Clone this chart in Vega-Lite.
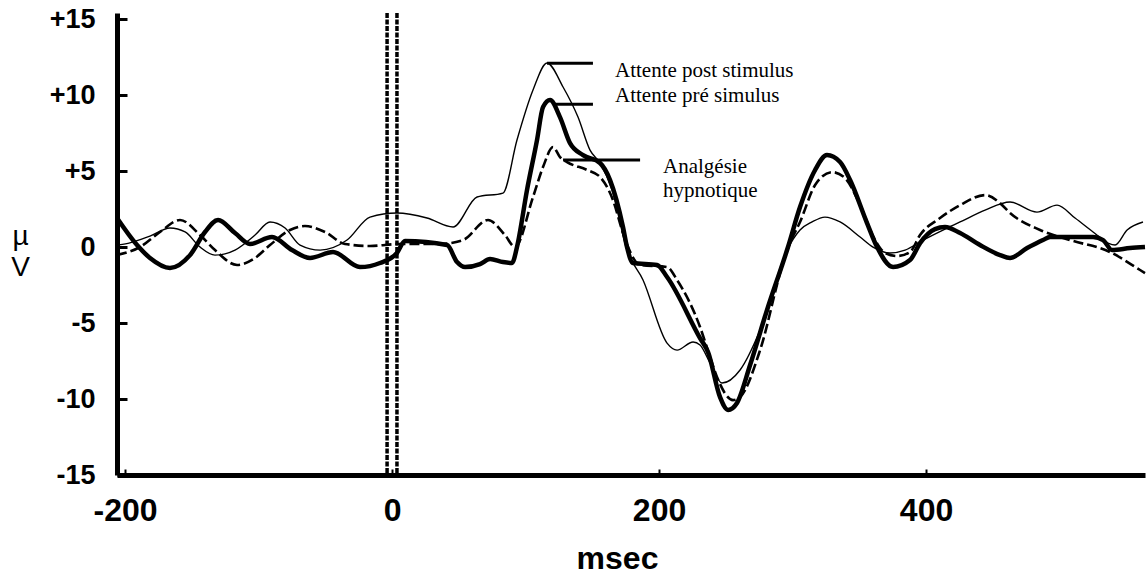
{
  "$schema": "https://vega.github.io/schema/vega-lite/v6.json",
  "width": 1028,
  "height": 462,
  "autosize": {"type": "none"},
  "padding": {"left": 117, "top": 13, "right": 1, "bottom": 99},
  "background": "white",
  "config": {
    "view": {"stroke": null},
    "axis": {"grid": false, "domainColor": "black", "tickColor": "black", "labelColor": "black", "titleColor": "black"}
  },
  "datasets": {
    "curves": [
      {"c": "pre", "t": -206.0, "v": 1.91}, {"c": "pre", "t": -191.0, "v": 0.13}, {"c": "pre", "t": -181.3, "v": -0.72},
      {"c": "pre", "t": -166.3, "v": -1.38}, {"c": "pre", "t": -151.3, "v": -0.53}, {"c": "pre", "t": -140.1, "v": 0.99},
      {"c": "pre", "t": -130.3, "v": 1.78}, {"c": "pre", "t": -117.6, "v": 0.92}, {"c": "pre", "t": -106.4, "v": 0.2},
      {"c": "pre", "t": -89.9, "v": 0.66}, {"c": "pre", "t": -74.9, "v": -0.2}, {"c": "pre", "t": -61.4, "v": -0.72},
      {"c": "pre", "t": -44.2, "v": -0.33}, {"c": "pre", "t": -24.0, "v": -1.32}, {"c": "pre", "t": -9.0, "v": -1.05},
      {"c": "pre", "t": 3.7, "v": -0.39}, {"c": "pre", "t": 9.7, "v": 0.39}, {"c": "pre", "t": 41.2, "v": 0.13},
      {"c": "pre", "t": 48.7, "v": -0.99}, {"c": "pre", "t": 54.7, "v": -1.32}, {"c": "pre", "t": 65.9, "v": -1.12},
      {"c": "pre", "t": 73.4, "v": -0.79}, {"c": "pre", "t": 83.1, "v": -0.99}, {"c": "pre", "t": 89.9, "v": -1.05},
      {"c": "pre", "t": 93.6, "v": 0.0}, {"c": "pre", "t": 101.1, "v": 3.75}, {"c": "pre", "t": 108.6, "v": 7.04},
      {"c": "pre", "t": 113.1, "v": 9.21}, {"c": "pre", "t": 118.4, "v": 9.67}, {"c": "pre", "t": 125.8, "v": 8.55},
      {"c": "pre", "t": 133.3, "v": 6.84}, {"c": "pre", "t": 143.1, "v": 6.05}, {"c": "pre", "t": 155.8, "v": 5.53},
      {"c": "pre", "t": 163.3, "v": 4.41}, {"c": "pre", "t": 173.0, "v": 1.32}, {"c": "pre", "t": 176.0, "v": 0.0},
      {"c": "pre", "t": 180.5, "v": -1.05}, {"c": "pre", "t": 198.5, "v": -1.18}, {"c": "pre", "t": 206.0, "v": -1.97},
      {"c": "pre", "t": 230.7, "v": -5.99}, {"c": "pre", "t": 236.7, "v": -6.91}, {"c": "pre", "t": 245.7, "v": -9.87},
      {"c": "pre", "t": 251.7, "v": -10.72}, {"c": "pre", "t": 258.4, "v": -10.26}, {"c": "pre", "t": 268.2, "v": -7.76},
      {"c": "pre", "t": 280.9, "v": -4.14}, {"c": "pre", "t": 296.6, "v": 0.0}, {"c": "pre", "t": 305.6, "v": 2.63},
      {"c": "pre", "t": 316.9, "v": 5.07}, {"c": "pre", "t": 325.8, "v": 6.05}, {"c": "pre", "t": 335.6, "v": 5.59},
      {"c": "pre", "t": 343.1, "v": 4.41}, {"c": "pre", "t": 355.8, "v": 1.58}, {"c": "pre", "t": 363.3, "v": 0.0},
      {"c": "pre", "t": 375.3, "v": -1.32}, {"c": "pre", "t": 388.0, "v": -0.86}, {"c": "pre", "t": 395.5, "v": 0.26},
      {"c": "pre", "t": 406.7, "v": 1.18}, {"c": "pre", "t": 414.2, "v": 1.32}, {"c": "pre", "t": 425.5, "v": 0.92},
      {"c": "pre", "t": 440.4, "v": 0.13}, {"c": "pre", "t": 455.4, "v": -0.53}, {"c": "pre", "t": 462.9, "v": -0.72},
      {"c": "pre", "t": 475.7, "v": -0.07}, {"c": "pre", "t": 487.6, "v": 0.46}, {"c": "pre", "t": 492.9, "v": 0.66},
      {"c": "pre", "t": 525.1, "v": 0.66}, {"c": "pre", "t": 532.6, "v": 0.46}, {"c": "pre", "t": 539.3, "v": -0.2},
      {"c": "pre", "t": 552.8, "v": -0.07}, {"c": "pre", "t": 564.0, "v": 0.0},

      {"c": "post", "t": -206.0, "v": 0.13}, {"c": "post", "t": -197.0, "v": 0.26}, {"c": "post", "t": -181.3, "v": 0.72},
      {"c": "post", "t": -166.3, "v": 1.25}, {"c": "post", "t": -155.0, "v": 0.99}, {"c": "post", "t": -143.8, "v": 0.0},
      {"c": "post", "t": -132.6, "v": -0.53}, {"c": "post", "t": -117.6, "v": -0.2}, {"c": "post", "t": -102.6, "v": 0.79},
      {"c": "post", "t": -91.4, "v": 1.65}, {"c": "post", "t": -80.1, "v": 1.25}, {"c": "post", "t": -68.9, "v": 0.13},
      {"c": "post", "t": -53.9, "v": -0.2}, {"c": "post", "t": -33.7, "v": 0.46}, {"c": "post", "t": -16.5, "v": 1.97},
      {"c": "post", "t": 3.7, "v": 2.24}, {"c": "post", "t": 26.2, "v": 1.91}, {"c": "post", "t": 45.7, "v": 1.32},
      {"c": "post", "t": 63.7, "v": 3.29}, {"c": "post", "t": 83.1, "v": 3.55}, {"c": "post", "t": 93.6, "v": 7.04},
      {"c": "post", "t": 105.6, "v": 10.33}, {"c": "post", "t": 116.1, "v": 12.11}, {"c": "post", "t": 128.1, "v": 10.53},
      {"c": "post", "t": 139.3, "v": 8.55}, {"c": "post", "t": 148.3, "v": 6.38}, {"c": "post", "t": 155.8, "v": 5.53},
      {"c": "post", "t": 164.8, "v": 3.75}, {"c": "post", "t": 176.0, "v": -0.2}, {"c": "post", "t": 188.0, "v": -2.17},
      {"c": "post", "t": 206.0, "v": -6.32}, {"c": "post", "t": 213.5, "v": -6.78}, {"c": "post", "t": 225.5, "v": -6.25},
      {"c": "post", "t": 230.7, "v": -6.45}, {"c": "post", "t": 238.2, "v": -7.63}, {"c": "post", "t": 247.2, "v": -8.95},
      {"c": "post", "t": 260.7, "v": -8.09}, {"c": "post", "t": 275.7, "v": -5.46}, {"c": "post", "t": 295.9, "v": -0.2},
      {"c": "post", "t": 305.6, "v": 1.12}, {"c": "post", "t": 314.6, "v": 1.65}, {"c": "post", "t": 324.3, "v": 1.97},
      {"c": "post", "t": 335.6, "v": 1.65}, {"c": "post", "t": 350.6, "v": 0.66}, {"c": "post", "t": 360.3, "v": 0.0},
      {"c": "post", "t": 373.0, "v": -0.39}, {"c": "post", "t": 384.3, "v": -0.2}, {"c": "post", "t": 397.8, "v": 0.46},
      {"c": "post", "t": 412.7, "v": 1.12}, {"c": "post", "t": 425.5, "v": 1.65}, {"c": "post", "t": 444.2, "v": 2.43},
      {"c": "post", "t": 462.9, "v": 2.96}, {"c": "post", "t": 483.1, "v": 2.3}, {"c": "post", "t": 498.1, "v": 2.76},
      {"c": "post", "t": 511.6, "v": 1.91}, {"c": "post", "t": 525.1, "v": 0.99}, {"c": "post", "t": 536.3, "v": 0.26},
      {"c": "post", "t": 541.6, "v": 0.13}, {"c": "post", "t": 550.6, "v": 1.12}, {"c": "post", "t": 562.5, "v": 1.65},

      {"c": "hyp", "t": -206.0, "v": -0.53}, {"c": "hyp", "t": -188.8, "v": 0.0}, {"c": "hyp", "t": -173.8, "v": 0.99},
      {"c": "hyp", "t": -158.8, "v": 1.78}, {"c": "hyp", "t": -143.8, "v": 0.79}, {"c": "hyp", "t": -132.6, "v": -0.2},
      {"c": "hyp", "t": -116.1, "v": -1.18}, {"c": "hyp", "t": -102.6, "v": -0.72}, {"c": "hyp", "t": -91.4, "v": 0.13},
      {"c": "hyp", "t": -76.4, "v": 1.12}, {"c": "hyp", "t": -65.2, "v": 1.38}, {"c": "hyp", "t": -50.2, "v": 0.99},
      {"c": "hyp", "t": -35.2, "v": 0.2}, {"c": "hyp", "t": -16.5, "v": 0.07}, {"c": "hyp", "t": 6.0, "v": 0.2},
      {"c": "hyp", "t": 36.0, "v": 0.2}, {"c": "hyp", "t": 53.2, "v": 0.46}, {"c": "hyp", "t": 71.9, "v": 1.78},
      {"c": "hyp", "t": 84.6, "v": 0.79}, {"c": "hyp", "t": 92.1, "v": 0.0}, {"c": "hyp", "t": 105.6, "v": 3.29},
      {"c": "hyp", "t": 113.1, "v": 5.26}, {"c": "hyp", "t": 120.6, "v": 6.58}, {"c": "hyp", "t": 125.8, "v": 5.92},
      {"c": "hyp", "t": 131.1, "v": 5.59}, {"c": "hyp", "t": 146.1, "v": 5.07}, {"c": "hyp", "t": 155.8, "v": 4.61},
      {"c": "hyp", "t": 165.5, "v": 3.09}, {"c": "hyp", "t": 173.0, "v": 0.92}, {"c": "hyp", "t": 176.8, "v": 0.0},
      {"c": "hyp", "t": 185.8, "v": -1.18}, {"c": "hyp", "t": 206.0, "v": -1.32}, {"c": "hyp", "t": 213.5, "v": -2.17},
      {"c": "hyp", "t": 230.7, "v": -5.26}, {"c": "hyp", "t": 238.2, "v": -7.24}, {"c": "hyp", "t": 243.4, "v": -8.55},
      {"c": "hyp", "t": 255.4, "v": -10.07}, {"c": "hyp", "t": 260.7, "v": -9.87}, {"c": "hyp", "t": 275.7, "v": -6.78},
      {"c": "hyp", "t": 292.9, "v": -1.05}, {"c": "hyp", "t": 298.1, "v": 0.26}, {"c": "hyp", "t": 305.6, "v": 1.65},
      {"c": "hyp", "t": 316.9, "v": 4.08}, {"c": "hyp", "t": 329.6, "v": 4.93}, {"c": "hyp", "t": 339.3, "v": 4.54},
      {"c": "hyp", "t": 350.6, "v": 2.76}, {"c": "hyp", "t": 361.8, "v": 0.46}, {"c": "hyp", "t": 369.3, "v": -0.39},
      {"c": "hyp", "t": 378.3, "v": -0.59}, {"c": "hyp", "t": 388.0, "v": -0.33}, {"c": "hyp", "t": 395.5, "v": 0.79},
      {"c": "hyp", "t": 410.5, "v": 1.91}, {"c": "hyp", "t": 425.5, "v": 2.76}, {"c": "hyp", "t": 444.2, "v": 3.42},
      {"c": "hyp", "t": 455.4, "v": 2.89}, {"c": "hyp", "t": 462.9, "v": 2.24}, {"c": "hyp", "t": 485.4, "v": 1.12},
      {"c": "hyp", "t": 507.9, "v": 0.46}, {"c": "hyp", "t": 537.8, "v": -0.33}, {"c": "hyp", "t": 560.3, "v": -1.51},
      {"c": "hyp", "t": 564.0, "v": -1.71}
    ],
    "markers": [{"t": -3.7}, {"t": 3.7}],
    "leaders": [
      {"t": 116.1, "t2": 150.5, "v": 12.1},
      {"t": 120.6, "t2": 150.5, "v": 9.4},
      {"t": 128.1, "t2": 185.8, "v": 5.72}
    ],
    "labels": [
      {"t": 167.0, "v": 11.18, "text": "Attente post stimulus"},
      {"t": 167.0, "v": 9.54, "text": "Attente pré simulus"},
      {"t": 203.0, "v": 4.87, "text": "Analgésie"},
      {"t": 203.0, "v": 3.29, "text": "hypnotique"}
    ]
  },
  "layer": [
    {
      "data": {"name": "markers"},
      "mark": {"type": "rule", "color": "black", "strokeWidth": 3.5, "strokeDash": [5, 1.5]},
      "encoding": {
        "x": {"field": "t", "type": "quantitative", "scale": {"domain": [-206, 564], "nice": false, "zero": false},
          "axis": {
            "values": [-200, 0, 200, 400],
            "labelExpr": "'' + datum.value",
            "labelFont": "Liberation Sans", "labelFontSize": 32, "labelFontWeight": "bold",
            "labelBaseline": "alphabetic", "labelPadding": 51, "labelFlush": false,
            "domainWidth": 5, "tickSize": -6, "tickWidth": 2,
            "title": "msec", "titleFont": "Liberation Sans", "titleFontSize": 32, "titleFontWeight": "bold",
            "titleX": 500, "titleY": 93, "titleBaseline": "alphabetic"
          }
        }
      }
    },
    {
      "mark": {"type": "rule", "color": "black", "strokeWidth": 3.5},
      "encoding": {
        "y": {"datum": 0, "type": "quantitative", "scale": {"domain": [-15, 15.4], "nice": false, "zero": false},
          "axis": {
            "values": [-15, -10, -5, 0, 5, 10, 15],
            "labelExpr": "datum.value > 0 ? '+' + datum.value : '' + datum.value",
            "labelFont": "Liberation Sans", "labelFontSize": 27, "labelFontWeight": "bold",
            "labelAlign": "right", "labelBaseline": "middle", "labelPadding": 32,
            "domainWidth": 5, "tickSize": -10, "tickWidth": 3,
            "title": ["µ", "V"], "titleAngle": 0, "titleFont": "Liberation Sans", "titleFontSize": 28,
            "titleFontWeight": "normal", "titleAlign": "center", "titleBaseline": "alphabetic",
            "titleX": -97, "titleY": 231, "titleLineHeight": 31
          }
        }
      }
    },
    {
      "mark": {"type": "rule", "color": "black", "strokeWidth": 4.5},
      "encoding": {"y": {"datum": 15.4, "type": "quantitative"}}
    },
    {
      "mark": {"type": "rule", "color": "black", "strokeWidth": 1.5},
      "encoding": {"x": {"datum": 564, "type": "quantitative"}}
    },
    {
      "data": {"name": "curves"},
      "transform": [{"filter": "datum.c === 'post'"}],
      "mark": {"type": "line", "color": "black", "strokeWidth": 1.4, "interpolate": "monotone"},
      "encoding": {
        "x": {"field": "t", "type": "quantitative"},
        "y": {"field": "v", "type": "quantitative"}
      }
    },
    {
      "data": {"name": "curves"},
      "transform": [{"filter": "datum.c === 'hyp'"}],
      "mark": {"type": "line", "color": "black", "strokeWidth": 2.6, "strokeDash": [10, 4], "interpolate": "monotone"},
      "encoding": {
        "x": {"field": "t", "type": "quantitative"},
        "y": {"field": "v", "type": "quantitative"}
      }
    },
    {
      "data": {"name": "curves"},
      "transform": [{"filter": "datum.c === 'pre'"}],
      "mark": {"type": "line", "color": "black", "strokeWidth": 4.5, "interpolate": "monotone"},
      "encoding": {
        "x": {"field": "t", "type": "quantitative"},
        "y": {"field": "v", "type": "quantitative"}
      }
    },
    {
      "data": {"name": "leaders"},
      "mark": {"type": "rule", "color": "black", "strokeWidth": 3},
      "encoding": {
        "x": {"field": "t", "type": "quantitative"},
        "x2": {"field": "t2"},
        "y": {"field": "v", "type": "quantitative"}
      }
    },
    {
      "data": {"name": "labels"},
      "mark": {"type": "text", "align": "left", "baseline": "alphabetic", "font": "Liberation Serif", "fontSize": 21, "color": "black"},
      "encoding": {
        "x": {"field": "t", "type": "quantitative"},
        "y": {"field": "v", "type": "quantitative"},
        "text": {"field": "text"}
      }
    }
  ]
}
